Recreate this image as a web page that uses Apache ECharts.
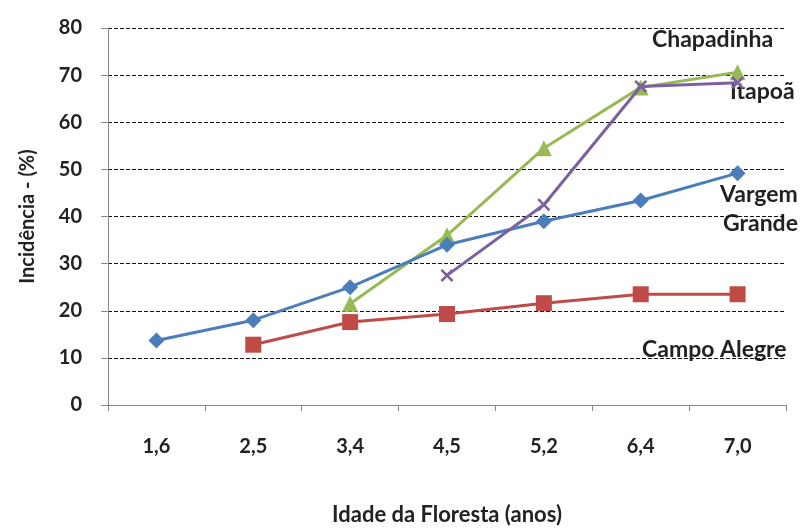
<!DOCTYPE html>
<html><head><meta charset="utf-8">
<script src="https://cdn.jsdelivr.net/npm/echarts@6/dist/echarts.min.js"></script>
<style>html,body{margin:0;padding:0;background:#fff}#c{width:805px;height:531px}</style>
</head><body><div id="c"></div>
<script>
const categories = ['1,6','2,5','3,4','4,5','5,2','6,4','7,0'];
const vargemGrande = [13.7, 18, 25, 34, 39, 43.4, 49.2];
const campoAlegre = [null, 12.8, 17.6, 19.3, 21.6, 23.5, 23.5];
const chapadinha = [null, null, 21.5, 36, 54.5, 67.4, 70.6];
const itapoa = [null, null, null, 27.5, 42.5, 67.6, 68.4];
const yTicks = [0,10,20,30,40,50,60,70,80];

const font = 'Lato, "Open Sans", sans-serif';
const xPath = 'path://M0,1.4L1.4,0L5,3.6L8.6,0L10,1.4L6.4,5L10,8.6L8.6,10L5,6.4L1.4,10L0,8.6L3.6,5Z';
const txt = '#222';

const chart = echarts.init(document.getElementById('c'));
chart.setOption({
  animation: false,
  backgroundColor: '#fff',
  grid: {left: 108, right: 19, top: 28, bottom: 122},
  xAxis: {
    type: 'category', data: categories, boundaryGap: true,
    axisLine: {lineStyle: {color: '#888', width: 1}},
    axisTick: {show: true, length: 6, lineStyle: {color: '#888'}},
    axisLabel: {color: txt, fontSize: 20, fontWeight: 'bold', fontFamily: font, margin: 32},
    name: 'Idade da Floresta (anos)', nameLocation: 'middle', nameGap: 99,
    nameTextStyle: {color: txt, fontSize: 22, fontWeight: 'bold', fontFamily: font}
  },
  yAxis: {
    type: 'value', min: yTicks[0], max: yTicks[yTicks.length-1], interval: 10,
    axisLine: {show: true, lineStyle: {color: '#888'}},
    axisTick: {show: true, length: 7, lineStyle: {color: '#888'}},
    splitLine: {show: true, lineStyle: {color: '#111', type: [4,2], width: 1}},
    axisLabel: {color: txt, fontSize: 20, fontWeight: 'bold', fontFamily: font, margin: 26},
    name: 'Incidência - (%)', nameLocation: 'middle', nameGap: 70, nameRotate: 90,
    nameTextStyle: {color: txt, fontSize: 20, fontWeight: 'bold', fontFamily: font}
  },
  series: [
    {name: 'Vargem Grande', type: 'line', data: vargemGrande, symbol: 'diamond', symbolSize: 16,
     itemStyle: {color: '#4a7ebb'}, lineStyle: {width: 3, color: '#4a7ebb'}, z: 4},
    {name: 'Campo Alegre', type: 'line', data: campoAlegre, symbol: 'rect', symbolSize: 16,
     itemStyle: {color: '#be4b48'}, lineStyle: {width: 3, color: '#be4b48'}, z: 3},
    {name: 'Chapadinha', type: 'line', data: chapadinha, symbol: 'triangle', symbolSize: 16,
     itemStyle: {color: '#98b954'}, lineStyle: {width: 3, color: '#98b954'}, z: 2},
    {name: 'Itapoã', type: 'line', data: itapoa, symbol: xPath, symbolSize: 13,
     itemStyle: {color: '#7d60a0'}, lineStyle: {width: 3, color: '#7d60a0'}, z: 5}
  ],
  graphic: [
    {type: 'text', left: 652, top: 28, style: {text: 'Chapadinha', fill: txt, font: 'bold 23px ' + font}},
    {type: 'text', left: 730, top: 80, style: {text: 'Itapoã', fill: txt, font: 'bold 23px ' + font}},
    {type: 'text', left: 720, top: 183, style: {text: 'Vargem', fill: txt, font: 'bold 23px ' + font}},
    {type: 'text', left: 723, top: 212, style: {text: 'Grande', fill: txt, font: 'bold 23px ' + font}},
    {type: 'text', left: 642, top: 338, style: {text: 'Campo Alegre', fill: txt, font: 'bold 23px ' + font}}
  ]
});
</script></body></html>
